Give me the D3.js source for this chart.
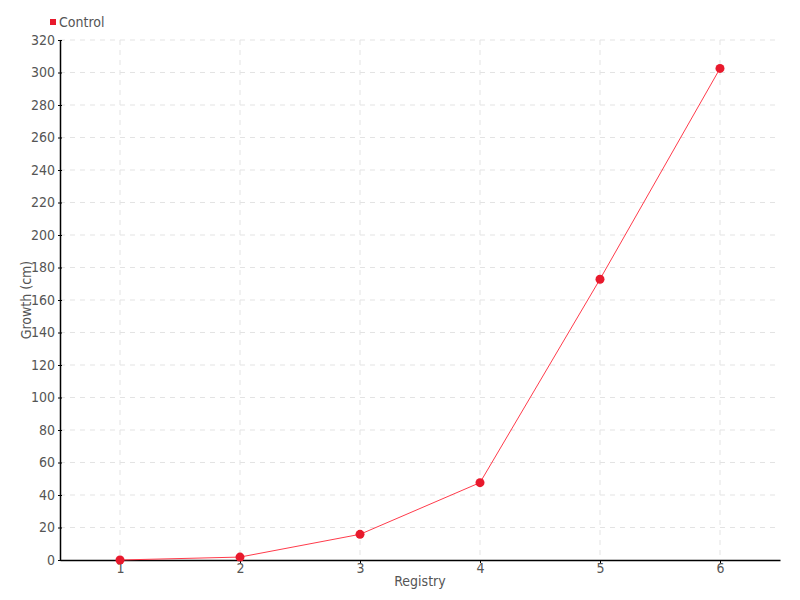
<!DOCTYPE html>
<html>
<head>
<meta charset="utf-8">
<script src="https://cdn.jsdelivr.net/npm/d3@7"></script>
<style>
  body { margin: 0; background: #fff; }
  text { font-family: "DejaVu Sans Condensed", "DejaVu Sans", sans-serif; font-stretch: condensed; fill: #555; }
</style>
</head>
<body>
<script>
var registry = [1, 2, 3, 4, 5, 6];
var growth = [0, 1.8, 15.8, 47.6, 172.8, 302.5];
var yTicks = d3.range(0, 321, 20);
var seriesName = "Control";

var w = 800, h = 600;
var padLeft = 60, padRight = 780, padTop = 40, padBottom = 560;

var svg = d3.select("body").append("svg")
  .attr("width", w)
  .attr("height", h);

var x = d3.scaleLinear().domain([0.5, 6.5]).range([padLeft, padRight]);
var y = d3.scaleLinear().domain([0, 320]).range([padBottom, padTop]);

// grid
svg.append("g").selectAll("line")
  .data(yTicks.filter(function(d){ return d > 0; }))
  .enter().append("line")
  .attr("x1", padLeft).attr("x2", padRight)
  .attr("y1", function(d){ return y(d); })
  .attr("y2", function(d){ return y(d); })
  .attr("stroke", "#e3e3e3")
  .attr("stroke-dasharray", "5,5");

svg.append("g").selectAll("line")
  .data(registry)
  .enter().append("line")
  .attr("x1", function(d){ return x(d); })
  .attr("x2", function(d){ return x(d); })
  .attr("y1", padTop).attr("y2", padBottom)
  .attr("stroke", "#e3e3e3")
  .attr("stroke-dasharray", "5,5");

// axes
var xAxis = svg.append("g")
  .attr("transform", "translate(0," + padBottom + ")")
  .call(d3.axisBottom(x).tickValues(registry).tickFormat(d3.format("d")).tickSize(3).tickSizeOuter(0));
xAxis.attr("font-family", null);
xAxis.select(".domain").attr("stroke", "#000").attr("stroke-width", 1.5);
xAxis.selectAll(".tick line").attr("stroke", "#000");
xAxis.selectAll(".tick text").attr("font-size", 14).attr("dy", "0.5em").attr("fill", "#555");

var yAxis = svg.append("g")
  .attr("transform", "translate(" + padLeft + ",0)")
  .call(d3.axisLeft(y).tickValues(yTicks).tickSize(2).tickSizeOuter(0).tickPadding(3));
yAxis.attr("font-family", null);
yAxis.select(".domain").attr("stroke", "#000").attr("stroke-width", 1.5);
yAxis.selectAll(".tick line").attr("stroke", "#000").attr("x1", 2).attr("x2", -2);
yAxis.selectAll(".tick text").attr("font-size", 14).attr("fill", "#555");

// line
var pts = registry.map(function(d, i){ return [d, growth[i]]; });
svg.append("path")
  .datum(pts)
  .attr("fill", "none")
  .attr("stroke", "#ff3b4b")
  .attr("stroke-width", 1)
  .attr("d", d3.line().x(function(d){ return x(d[0]); }).y(function(d){ return y(d[1]); }));

svg.selectAll("circle")
  .data(pts)
  .enter().append("circle")
  .attr("cx", function(d){ return x(d[0]); })
  .attr("cy", function(d){ return y(d[1]); })
  .attr("r", 4.5)
  .attr("fill", "#e8192c");

// axis titles
svg.append("text")
  .attr("x", (padLeft + padRight) / 2)
  .attr("y", 586)
  .attr("text-anchor", "middle")
  .attr("font-size", 14)
  .text("Registry");

svg.append("text")
  .attr("transform", "translate(31," + (padTop + padBottom) / 2 + ") rotate(-90)")
  .attr("text-anchor", "middle")
  .attr("font-size", 14)
  .text("Growth (cm)");

// legend
svg.append("rect")
  .attr("x", 50).attr("y", 19)
  .attr("width", 6).attr("height", 6)
  .attr("fill", "#e8192c");
svg.append("text")
  .attr("x", 59).attr("y", 27)
  .attr("font-size", 14)
  .text(seriesName);
</script>
</body>
</html>
